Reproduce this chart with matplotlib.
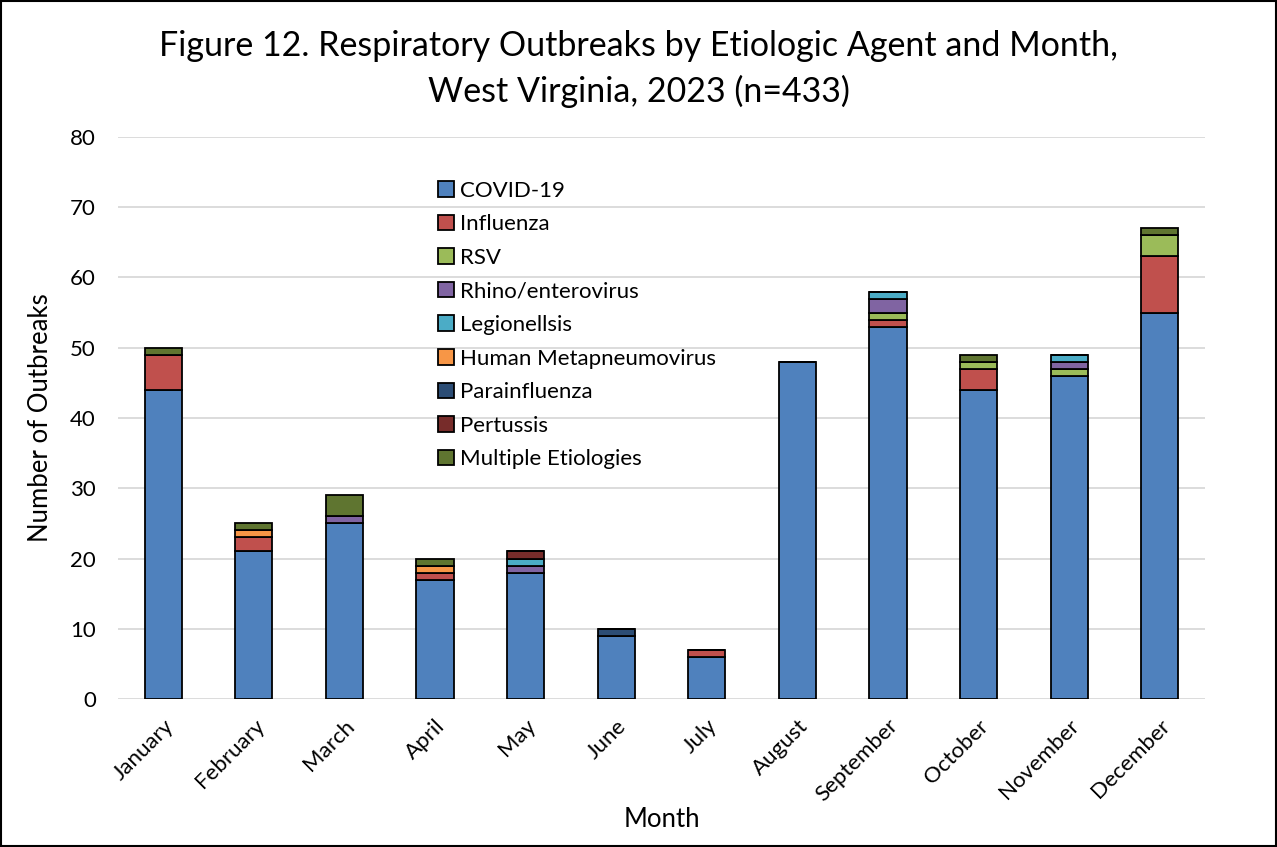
import matplotlib
matplotlib.use("Agg")
import matplotlib.pyplot as plt
from matplotlib.patches import Rectangle
import numpy as np

plt.rcParams['font.family'] = ['Lato', 'DejaVu Sans']

months = ["January", "February", "March", "April", "May", "June",
          "July", "August", "September", "October", "November", "December"]

covid = [44, 21, 25, 17, 18, 9, 6, 48, 53, 44, 46, 55]
influenza = [5, 2, 0, 1, 0, 0, 1, 0, 1, 3, 0, 8]
rsv = [0, 0, 0, 0, 0, 0, 0, 0, 1, 1, 1, 3]
rhino = [0, 0, 1, 0, 1, 0, 0, 0, 2, 0, 1, 0]
legionellosis = [0, 0, 0, 0, 1, 0, 0, 0, 1, 0, 1, 0]
hmpv = [0, 1, 0, 1, 0, 0, 0, 0, 0, 0, 0, 0]
parainfluenza = [0, 0, 0, 0, 0, 1, 0, 0, 0, 0, 0, 0]
pertussis = [0, 0, 0, 0, 1, 0, 0, 0, 0, 0, 0, 0]
multiple = [1, 1, 3, 1, 0, 0, 0, 0, 0, 1, 0, 1]

series_names = ["COVID-19", "Influenza", "RSV", "Rhino/enterovirus", "Legionellsis",
                "Human Metapneumovirus", "Parainfluenza", "Pertussis", "Multiple Etiologies"]
series_values = [covid, influenza, rsv, rhino, legionellosis, hmpv,
                 parainfluenza, pertussis, multiple]
colors = ["#4F81BD", "#C0504D", "#9BBB59", "#8064A2", "#4BACC6",
          "#F79646", "#2C4D75", "#772C2A", "#5F7530"]

fig = plt.figure(figsize=(12.77, 8.47), dpi=100)
ax = fig.add_axes([0.0924, 0.1747, 0.8512, 0.6636])

x = np.arange(len(months))
bottom = np.zeros(len(months))
handles = []
for name, vals, col in zip(series_names, series_values, colors):
    vals = np.array(vals, dtype=float)
    bars = ax.bar(x, vals, width=0.41, bottom=bottom, color=col,
                  edgecolor="black", linewidth=1.3, label=name, zorder=3)
    handles.append(bars)
    bottom += vals

ax.set_xlim(-0.5, 11.5)
ax.set_ylim(0, 80)
ax.set_yticks(range(0, 81, 10))
ax.yaxis.grid(True, color="#D9D9D9", linewidth=1.3, zorder=0)
ax.set_axisbelow(True)
for s in ax.spines.values():
    s.set_visible(False)
ax.tick_params(axis="both", length=0, labelsize=16, colors="black")
ax.tick_params(axis="y", pad=16)
ax.set_xticks(x)
ax.set_xticklabels(months, rotation=45, ha="right", rotation_mode="anchor")
ax.tick_params(axis="x", pad=12)

ax.set_ylabel("Number of Outbreaks", fontsize=18.5, labelpad=12)
ax.set_xlabel("Month", fontsize=18.5, labelpad=1)

fig.text(0.5, 0.964,
         "Figure 12. Respiratory Outbreaks by Etiologic Agent and Month,\nWest Virginia, 2023 (n=433)",
         fontsize=24.5, ha="center", va="top", linespacing=1.45)

leg = fig.legend(handles=handles, labels=series_names, loc="upper left",
                 bbox_to_anchor=(0.336, 0.797), frameon=False, fontsize=16,
                 handlelength=0.7, handleheight=0.7, handletextpad=0.3,
                 labelspacing=0.61, borderaxespad=0)

fig.patches.append(Rectangle((0.001, 0.001), 0.998, 0.998, transform=fig.transFigure,
                             fill=False, edgecolor="black", linewidth=1.5))

fig.savefig("out.png", dpi=100)
